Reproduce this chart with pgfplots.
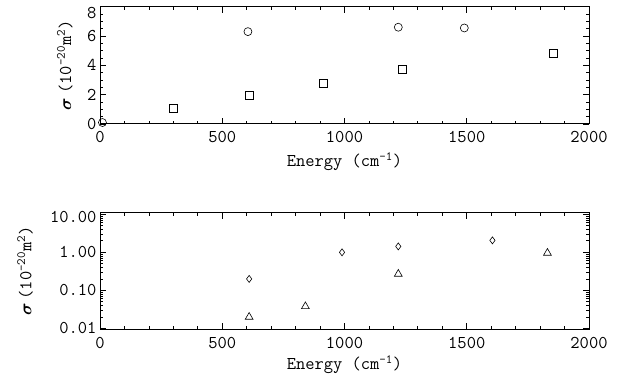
\documentclass[border=0pt]{standalone}
\usepackage{pgfplots}
\pgfplotsset{compat=1.18}
\usepackage{amsmath}
\usepackage{bm}
\newcommand{\fs}{\fontsize{18}{21}\selectfont\ttfamily}
\pgfplotsset{
  myaxis/.style={
    scale only axis,
    width=489pt,
    xmin=0, xmax=2000,
    xtick={0,500,1000,1500,2000},
    minor x tick num=4,
    tick align=inside,
    major tick length=6pt,
    minor tick length=3pt,
    axis line style={line width=1pt},
    tick style={black, line width=0.8pt},
    /pgf/number format/assume math mode=true,
    /pgf/number format/1000 sep={},
    tick label style={font=\fs},
    label style={font=\fs},
    xticklabel style={yshift=-4pt},
    scaled x ticks=false,
    clip=true,
  }
}
\begin{document}
\begin{tikzpicture}[x=1pt,y=1pt]
\path[use as bounding box] (0,0) rectangle (623,382);
\begin{axis}[myaxis,
  at={(100pt,258pt)}, anchor=south west,
  height=117.3pt,
  ymin=0, ymax=8,
  ytick={0,2,4,6,8},
  yticklabels={0,2,4,6,\raisebox{-12pt}[0pt][0pt]{8}},
  minor y tick num=3,
  xlabel={Energy\ (cm\textsuperscript{-1})},
  ylabel={$\bm{\sigma}$\hspace{4pt}(10\textsuperscript{-20}m\textsuperscript{2})},
  xlabel style={at={(axis description cs:0.5,-0.32)}, anchor=center},
  ylabel style={at={(axis description cs:-0.072,0.5)}, anchor=center},
]
\addplot[only marks, mark=o, mark size=4pt, black, line width=0.6pt] coordinates {
  (10,0.1) (605,6.3) (1220,6.6) (1490,6.55)
};
\addplot[only marks, mark=square, mark size=4pt, black, line width=0.6pt] coordinates {
  (300,1.05) (610,1.95) (915,2.8) (1235,3.75) (1855,4.8)
};
\end{axis}
\begin{axis}[myaxis,
  at={(100pt,52.7pt)}, anchor=south west,
  height=116.6pt,
  ymode=log,
  ymin=0.0095, ymax=11,
  ytick={0.01,0.1,1,10},
  yticklabels={0.01,0.10,1.00,\raisebox{-8.5pt}[0pt][0pt]{10.00}},
  xlabel={Energy\ (cm\textsuperscript{-1})},
  ylabel={$\bm{\sigma}$\hspace{4pt}(10\textsuperscript{-20}m\textsuperscript{2})},
  xlabel style={at={(axis description cs:0.5,-0.306)}, anchor=center},
  ylabel style={at={(axis description cs:-0.153,0.5)}, anchor=center},
]
\addplot[only marks, mark=diamond, mark size=3.5pt, black, line width=0.6pt] coordinates {
  (610,0.20) (990,1.0) (1220,1.43) (1605,2.06)
};
\addplot[only marks, mark=triangle, mark size=4.5pt, black, line width=0.6pt] coordinates {
  (610,0.02) (840,0.038) (1220,0.27) (1830,0.96)
};
\end{axis}
\end{tikzpicture}
\end{document}
